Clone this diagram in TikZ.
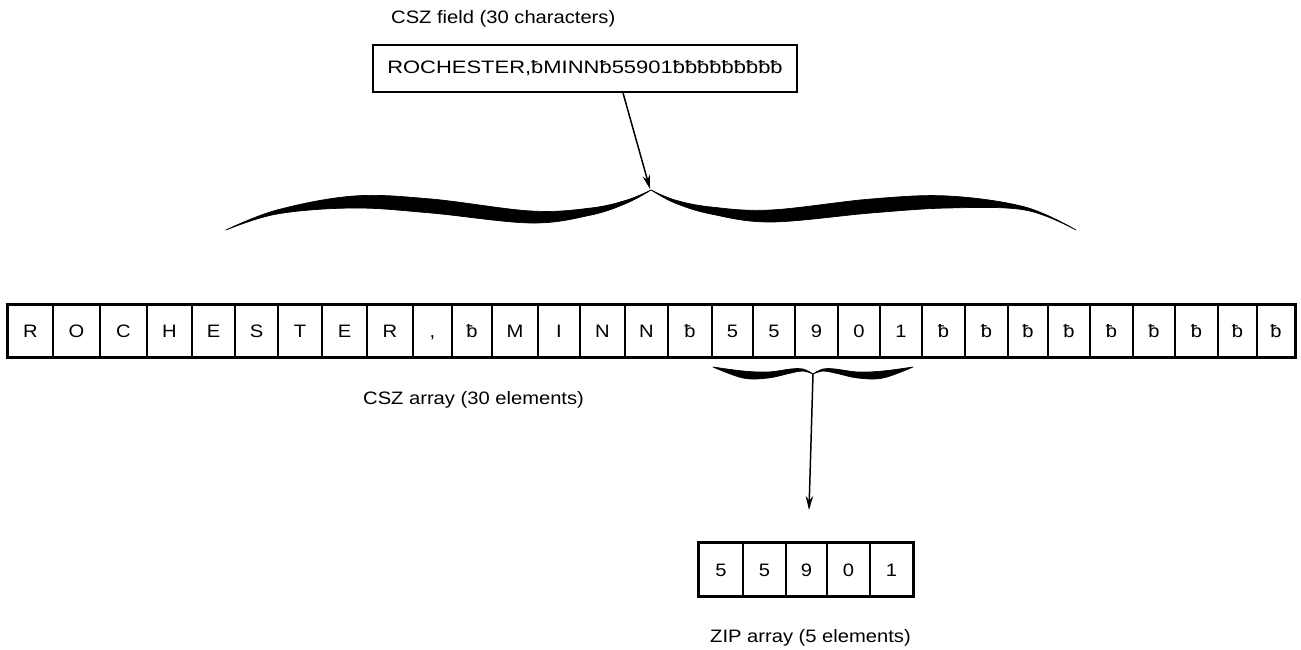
\documentclass[tikz,border=0pt]{standalone}
\usepackage{fontspec}
\setmainfont{Liberation Sans}
\usetikzlibrary{arrows.meta}
\newcommand\sx[1]{\scalebox{1.12}[1]{#1}}
\begin{document}
\begin{tikzpicture}[x=1pt,y=-1pt,
  txt/.style={font=\fontsize{18}{20}\selectfont, inner sep=0pt},
  cell/.style={draw, line width=1.9pt, inner sep=0pt, text height=13pt, text depth=0pt, font=\fontsize{18}{20}\selectfont},
  arr/.style={line width=1.5pt, -{Stealth[length=14pt,width=7.5pt]}},
  bracefill/.style={fill=black, draw=black, line width=0.7pt, line join=round}]
\useasboundingbox (0,0) rectangle (1301,650);

% CSZ field
\node[txt, anchor=west] (fieldlbl) at (391,19) {\sx{CSZ field (30 characters)}};
\node[draw, line width=1.9pt, minimum width=424pt, minimum height=47pt, inner sep=0pt,
      font=\fontsize{18}{20}\selectfont] (field) at (585,68.5)
      {\scalebox{1.22}[1]{ROCHESTER,ƀMINNƀ55901ƀƀƀƀƀƀƀƀƀ}};

% big brace
\coordinate (bigpeak) at (650,189);
\filldraw[bracefill] plot[smooth,tension=0.6] coordinates {(226,230) (277,210) (354,196) (431,199) (531,211) (591,208) (627,200) (651,190)}
  -- plot[smooth,tension=0.6] coordinates {(651,190) (627,203) (591,215) (531,223) (431,213) (354,208) (277,214) (226,230)} -- cycle;
\filldraw[bracefill] plot[smooth,tension=0.6] coordinates {(1076,230) (1025,207) (948,196) (871,199) (771,210) (711,207) (675,200) (651,190)}
  -- plot[smooth,tension=0.6] coordinates {(651,190) (675,203) (711,214) (771,222) (871,213) (948,208) (1025,210) (1076,230)} -- cycle;
\draw[arr] ([xshift=38pt]field.south) -- (bigpeak);

% CSZ array
\foreach \l/\r/\t [count=\i] in {8/53/R,53/100/O,100/147/C,147/192/H,192/235/E,235/278/S,278/322/T,322/367/E,367/413/R,413/452/{,},452/492/ƀ,492/538/M,538/580/I,580/625/N,625/668/N,668/712/ƀ,712/753/5,753/795/5,795/838/9,838/880/0,880/922/1,922/965/ƀ,965/1008/ƀ,1008/1048/ƀ,1048/1090/ƀ,1090/1133/ƀ,1133/1175/ƀ,1175/1218/ƀ,1218/1257/ƀ,1257/1295/ƀ}
  \node[cell, minimum width={\r pt-\l pt}, minimum height=52pt] (c\i) at ({(\l+\r)/2},331) {\sx{\t}};
\draw[line width=2.8pt] (c1.north west) rectangle (c30.south east);
\node[txt, anchor=west] (arrlbl) at (363,400) {\sx{CSZ array (30 elements)}};

% small brace
\coordinate (smallpeak) at (813,374);
\coordinate (ziptip) at (809,510);
\filldraw[bracefill] plot[smooth,tension=0.6] coordinates {(713,367) (743,371) (768,372) (791,369) (803,369) (813,374)}
  -- plot[smooth,tension=0.6] coordinates {(813,374) (803,371) (791,373) (768,378) (743,378) (713,367)} -- cycle;
\filldraw[bracefill] plot[smooth,tension=0.6] coordinates {(913,367) (883,371) (858,372) (835,369) (823,369) (813,374)}
  -- plot[smooth,tension=0.6] coordinates {(813,374) (823,371) (835,373) (858,378) (883,378) (913,367)} -- cycle;
\draw[arr] (smallpeak) -- (ziptip);

% ZIP array
\foreach \l/\r/\t [count=\i] in {699/743/5,743/786/5,786/827/9,827/870/0,870/913/1}
  \node[cell, minimum width={\r pt-\l pt}, minimum height=53pt] (z\i) at ({(\l+\r)/2},569.5) {\sx{\t}};
\draw[line width=2.6pt] (z1.north west) rectangle (z5.south east);
\node[txt, anchor=west] (ziplbl) at (710,638) {\sx{ZIP array (5 elements)}};
\end{tikzpicture}
\end{document}
